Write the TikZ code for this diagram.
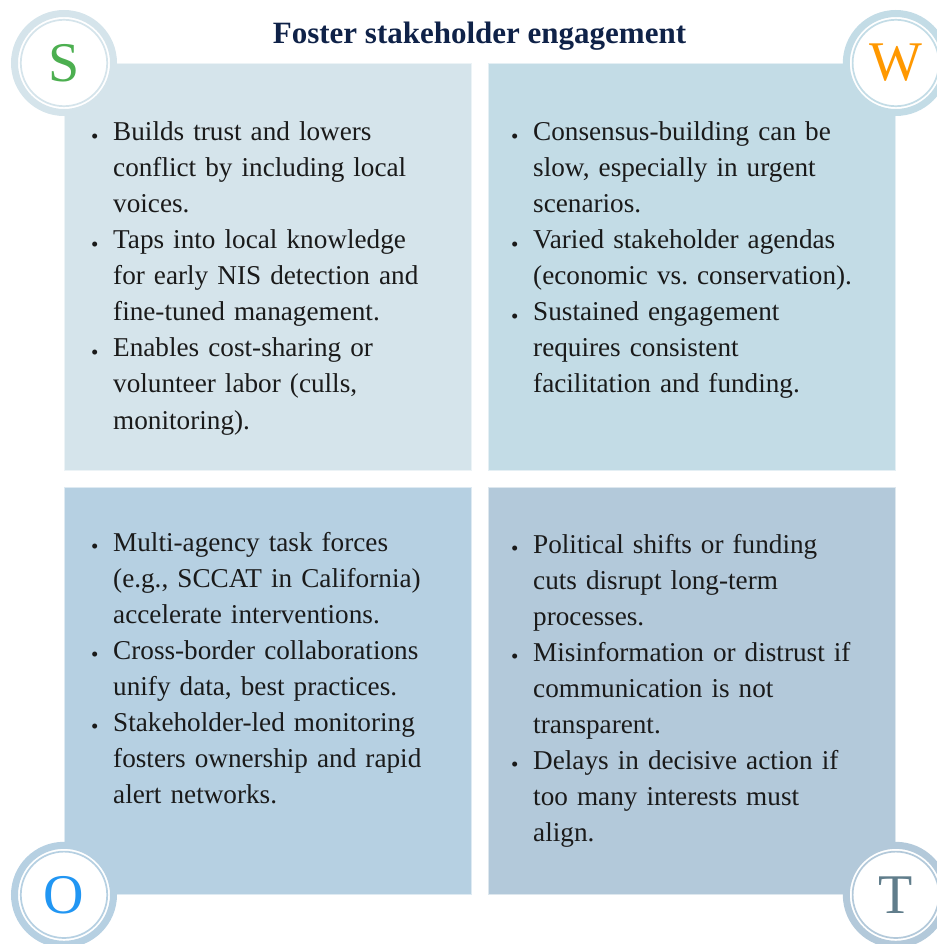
\documentclass[tikz,border=0pt]{standalone}
\usepackage{fontspec}
\setmainfont{Liberation Serif}
\frenchspacing
\definecolor{sbox}{HTML}{D5E4EB}
\definecolor{wbox}{HTML}{C3DCE6}
\definecolor{obox}{HTML}{B6D0E2}
\definecolor{tbox}{HTML}{B3C9DA}
\definecolor{sletter}{HTML}{4CAF50}
\definecolor{wletter}{HTML}{FF9800}
\definecolor{oletter}{HTML}{2196F3}
\definecolor{tletter}{HTML}{607D8B}
\definecolor{titleblue}{HTML}{0F2248}
\definecolor{bodytext}{HTML}{1A1A1A}
\newcommand{\dotmark}{\leavevmode\llap{\makebox[22pt][l]{\raisebox{-2.5pt}{\fontsize{21}{21}\selectfont\textbullet}}}}

\begin{document}
\begin{tikzpicture}[x=1pt, y=-1pt,
    quad/.style={rectangle, fill=#1, draw=white!55!#1, line width=0.8pt,
      minimum width=407pt, minimum height=407pt, inner sep=0pt, anchor=north west},
    badge/.style={circle, fill=white, draw=#1, line width=7pt,
      minimum size=99pt, inner sep=0pt, font=\fontsize{56}{56}\selectfont},
    ring/.style={draw=#1, line width=1.7pt},
    items/.style={text width=360pt, align=left, anchor=base west, inner sep=0pt,
      text=bodytext, font=\fontsize{27.2}{36}\selectfont}
    ]
    \useasboundingbox (0,0) rectangle (936,944);

    \node[font=\fontsize{31}{31}\selectfont\bfseries, text=titleblue, anchor=base]
      (title) at (479.5,44) {Foster stakeholder engagement};

    \node[quad=sbox] (sq) at (64,63) {};
    \node[quad=wbox] (wq) at (488,63) {};
    \node[quad=obox] (oq) at (64,487) {};
    \node[quad=tbox] (tq) at (488,487) {};

    \node[badge=sbox, text=sletter] (s) at (sq.north west) {S};
    \node[badge=wbox, text=wletter] (w) at (wq.north east) {W};
    \node[badge=obox, text=oletter] (o) at (oq.south west) {O};
    \node[badge=tbox, text=tletter] (t) at (tq.south east) {T};
    \draw[ring=sbox] (s.center) circle (43.2);
    \draw[ring=wbox] (w.center) circle (43.2);
    \draw[ring=obox] (o.center) circle (43.2);
    \draw[ring=tbox] (t.center) circle (43.2);

    \node[items] (sitems) at (113,141) {%
      \dotmark Builds trust and lowers\\
      conflict by including local\\
      voices.\\
      \dotmark Taps into local knowledge\\
      for early NIS detection and\\
      fine-tuned management.\\
      \dotmark Enables cost-sharing or\\
      volunteer labor (culls,\\
      monitoring).};

    \node[items] (witems) at (533,141) {%
      \dotmark Consensus-building can be\\
      slow, especially in urgent\\
      scenarios.\\
      \dotmark Varied stakeholder agendas\\
      (economic vs. conservation).\\
      \dotmark Sustained engagement\\
      requires consistent\\
      facilitation and funding.};

    \node[items] (oitems) at (113,551) {%
      \dotmark Multi-agency task forces\\
      (e.g., SCCAT in California)\\
      accelerate interventions.\\
      \dotmark Cross-border collaborations\\
      unify data, best practices.\\
      \dotmark Stakeholder-led monitoring\\
      fosters ownership and rapid\\
      alert networks.};

    \node[items] (titems) at (533,553) {%
      \dotmark Political shifts or funding\\
      cuts disrupt long-term\\
      processes.\\
      \dotmark Misinformation or distrust if\\
      communication is not\\
      transparent.\\
      \dotmark Delays in decisive action if\\
      too many interests must\\
      align.};
\end{tikzpicture}
\end{document}
